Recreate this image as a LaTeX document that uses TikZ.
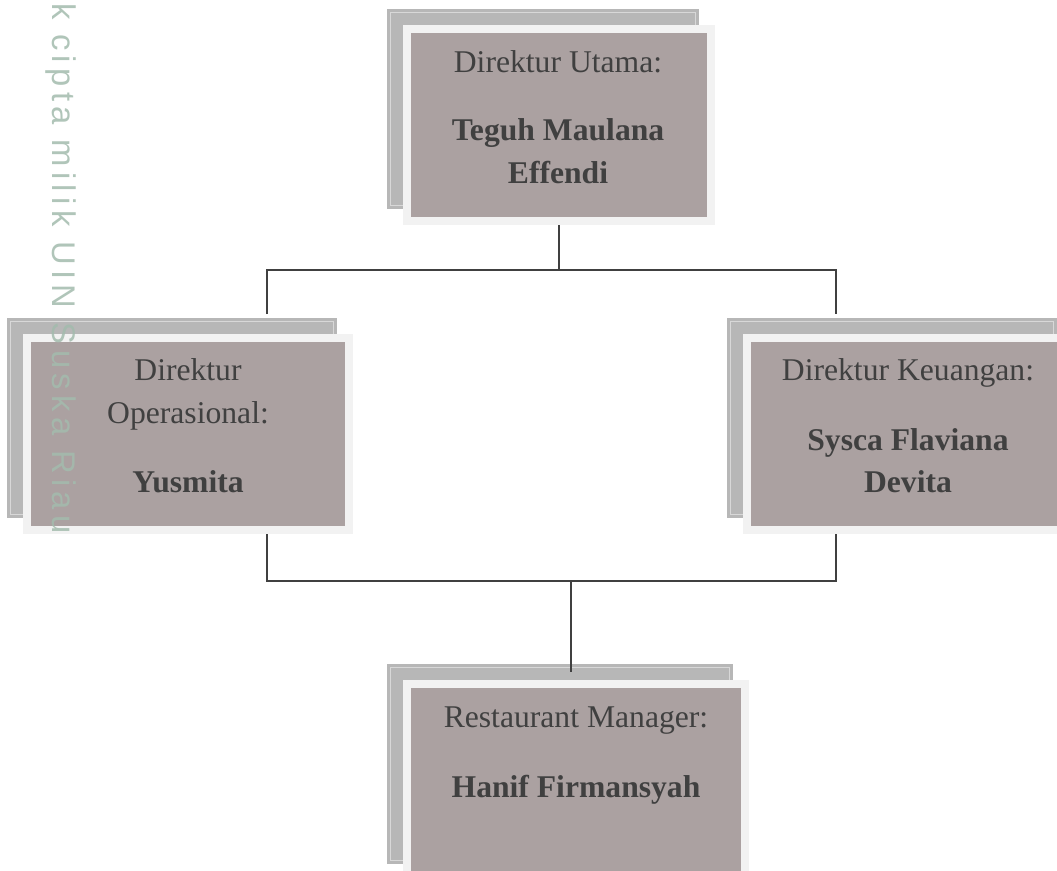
\documentclass[tikz,border=0pt]{standalone}
\usepackage{fontspec}
\setmainfont{Liberation Serif}
\newfontfamily\wmfont[LetterSpace=16.5]{Liberation Sans}
\usetikzlibrary{positioning,backgrounds}
\definecolor{boxfill}{HTML}{ABA1A1}
\definecolor{boxframe}{HTML}{F2F2F2}
\definecolor{shadowgray}{HTML}{B7B7B7}
\definecolor{shadowline}{HTML}{D8D8D8}
\definecolor{linegray}{HTML}{404040}
\definecolor{wmgreen}{HTML}{A3BBAD}
\begin{document}
\begin{tikzpicture}[x=0.025cm,y=-0.025cm,
  box/.style={draw=boxframe,fill=boxfill,line width=0.2cm,outer sep=0.1cm,minimum height=4.8cm,inner sep=0pt},
  txt/.style={text=linegray,anchor=base,inner sep=0pt,font=\fontsize{22.5}{30.6}\selectfont},
  pname/.style={txt,font=\fontsize{22.5}{30.6}\selectfont\bfseries},
  conn/.style={draw=linegray,line width=0.05cm},
  wm/.style={text=wmgreen,opacity=0.85,inner sep=0pt,font=\wmfont\fontsize{23.3}{28}\selectfont}]
\useasboundingbox (0,0) rectangle (1057,870);
\clip (0,0) rectangle (1057,870);
% boxes
\node[box,minimum width=7.6cm] (dirut) at (559,125) {};
\node[box,minimum width=8.05cm] (dirops) at (188,434) {};
\node[box,minimum width=8.05cm] (dirkeu) at (908,434) {};
\node[box,minimum width=8.45cm] (resman) at (576,780) {};
% shadows
\begin{scope}[on background layer]
\fill[white] (0,0) rectangle (1057,870);
\foreach \n in {dirut,dirops,dirkeu,resman}{
  \fill[shadowgray] ([shift={(-16,-16)}]\n.north west) rectangle ([shift={(-16,-16)}]\n.south east);
  \draw[shadowline,line width=0.025cm] ([shift={(-12,-12)}]\n.north west) rectangle ([shift={(-20,-20)}]\n.south east);
}
\end{scope}
% texts
\node[txt] (dirut-t) at (558,72) {Direktur Utama:};
\node[pname] (dirut-n1) at (558,140) {Teguh Maulana};
\node[pname] (dirut-n2) at (558,183) {Effendi};
\node[txt] (dirops-t1) at (188,380) {Direktur};
\node[txt] (dirops-t2) at (188,423) {Operasional:};
\node[pname] (dirops-n) at (188,492) {Yusmita};
\node[txt] (dirkeu-t) at (908,380) {Direktur Keuangan:};
\node[pname] (dirkeu-n1) at (908,450) {Sysca Flaviana};
\node[pname] (dirkeu-n2) at (908,492) {Devita};
\node[txt] (resman-t) at (576,727) {Restaurant Manager:};
\node[pname] (resman-n) at (576,797) {Hanif Firmansyah};
% connectors
\coordinate (ul) at (267,270);
\coordinate (ur) at (836,270);
\coordinate (ll) at (267,580);
\coordinate (lr) at (836,581);
\coordinate (lm) at (571,580);
\coordinate (opsin) at (267,314);
\coordinate (keuin) at (836,314);
\coordinate (resin) at (571,672);
\draw[conn] (dirut.south) -- (dirut.south |- ul);
\draw[conn] (opsin) |- (ur) -- (keuin);
\draw[conn] (ll |- dirops.south) |- (lr) -- (lr |- dirkeu.south);
\draw[conn] (lm) -- (resin);
% watermark
\node[wm,rotate=-90,anchor=base west] (wmark) at (52,3) {k cipta milik UIN Suska Riau};
\end{tikzpicture}
\end{document}
